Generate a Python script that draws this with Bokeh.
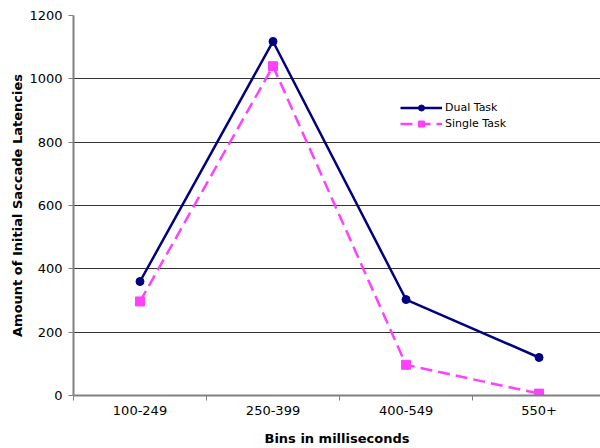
from bokeh.plotting import figure
from bokeh.models import Range1d, FixedTicker, Legend, LegendItem, ColumnDataSource
from bokeh.embed import file_html
from bokeh.resources import INLINE

categories = ["100-249", "250-399", "400-549", "550+"]
dual_task = [360, 1118, 303, 120]
single_task = [297, 1040, 97, 6]
y_ticks = [0, 200, 400, 600, 800, 1000, 1200]

xpos = [i + 0.5 for i in range(len(categories))]
FONT = "DejaVu Sans"

p = figure(width=600, height=448, output_backend="svg", toolbar_location=None,
           x_range=Range1d(0, 3.962), y_range=Range1d(0, 1200),
           min_border_left=73, min_border_right=0, min_border_top=15, min_border_bottom=53)
p.outline_line_color = None
p.background_fill_color = "white"
p.border_fill_color = "white"

src_d = ColumnDataSource(dict(x=xpos, y=dual_task))
src_s = ColumnDataSource(dict(x=xpos, y=single_task))

ld = p.line("x", "y", source=src_d, line_color="#000080", line_width=2.5)
md = p.scatter("x", "y", source=src_d, marker="circle", size=8, fill_color="#000080", line_color="#000080")
ls = p.line("x", "y", source=src_s, line_color="#FF40FF", line_width=2.5, line_dash="12 6")
ms = p.scatter("x", "y", source=src_s, marker="square", size=9, fill_color="#FF40FF", line_color="#FF40FF")

# x axis
xa = p.xaxis[0]
xa.ticker = FixedTicker(ticks=xpos, minor_ticks=list(range(len(categories) + 1)))
xa.major_label_overrides = {x: c for x, c in zip(xpos, categories)}
xa.major_tick_in = 0
xa.major_tick_out = 0
xa.minor_tick_in = 0
xa.minor_tick_out = 5
xa.minor_tick_line_color = "#808080"
xa.axis_line_color = "#808080"
xa.axis_line_width = 2
xa.major_label_text_font = FONT
xa.major_label_text_font_size = "13px"
xa.major_label_text_color = "#000000"
xa.major_label_standoff = 5
xa.axis_label = "Bins in milliseconds"
xa.axis_label_text_font = FONT
xa.axis_label_text_font_size = "13px"
xa.axis_label_text_font_style = "bold"
xa.axis_label_text_color = "#000000"
xa.axis_label_standoff = 13

# y axis
ya = p.yaxis[0]
ya.ticker = FixedTicker(ticks=y_ticks)
ya.major_tick_in = 0
ya.major_tick_out = 5
ya.minor_tick_in = 0
ya.minor_tick_out = 0
ya.major_tick_line_color = "#808080"
ya.axis_line_color = "#808080"
ya.axis_line_width = 2
ya.major_label_text_font = FONT
ya.major_label_text_font_size = "13px"
ya.major_label_text_color = "#000000"
ya.major_label_standoff = 6
ya.axis_label = "Amount of Initial Saccade Latencies"
ya.axis_label_text_font = FONT
ya.axis_label_text_font_size = "13px"
ya.axis_label_text_font_style = "bold"
ya.axis_label_text_color = "#000000"
ya.axis_label_standoff = 1

p.xgrid.grid_line_color = None
p.ygrid.grid_line_color = "#000000"
p.ygrid.grid_line_width = 1
p.ygrid.grid_line_alpha = 0.8

legend = Legend(items=[LegendItem(label="Dual Task", renderers=[ld, md]),
                       LegendItem(label="Single Task", renderers=[ls, ms])],
                location=(327, 264), padding=0, margin=0, spacing=1,
                glyph_width=42, glyph_height=15, label_standoff=3,
                label_text_font=FONT, label_text_font_size="11px",
                label_text_color="#000000",
                border_line_color=None, background_fill_alpha=0)
p.add_layout(legend)

open("out.html", "w").write(file_html(p, INLINE))
